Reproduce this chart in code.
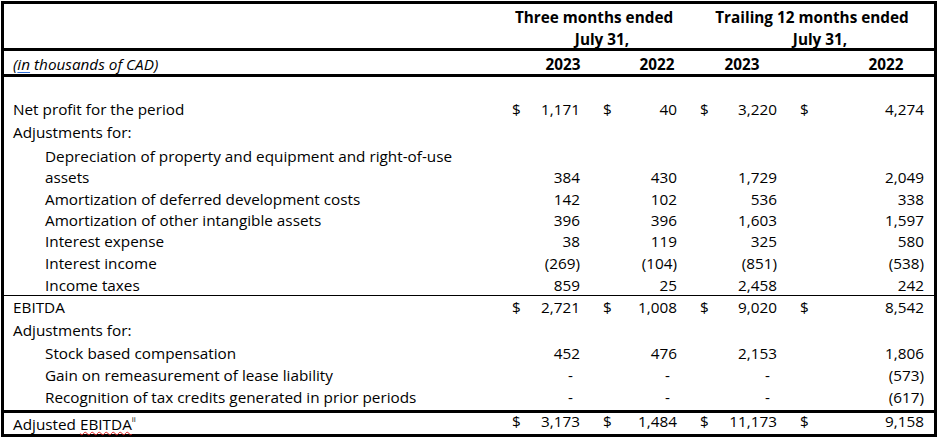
<!DOCTYPE html>
<html>
<head>
<meta charset="utf-8">
<script src="https://cdn.jsdelivr.net/npm/chart.js@4/dist/chart.umd.min.js"></script>
<style>
  html, body { margin:0; padding:0; background:#fff; }
  #wrap { position:relative; width:937px; height:438px; overflow:hidden; font-family:"Open Sans", sans-serif; font-size:15.3px; color:#000; }
  .t { position:absolute; white-space:nowrap; line-height:20px; }
  .b { font-weight:bold; }
  .hl { position:absolute; left:1px; width:936px; background:#000; }
  #box { position:absolute; left:1px; top:1px; width:936px; height:436px; box-sizing:border-box; border:3px solid #000; }
</style>
</head>
<body>
<div id="wrap">
  <div id="box"></div>
</div>
<script>
// ---- data ----
const rowLabels = [
  "Net profit for the period",
  "Adjustments for:",
  "Depreciation of property and equipment and right-of-use",
  "assets",
  "Amortization of deferred development costs",
  "Amortization of other intangible assets",
  "Interest expense",
  "Interest income",
  "Income taxes",
  "EBITDA",
  "Adjustments for:",
  "Stock based compensation",
  "Gain on remeasurement of lease liability",
  "Recognition of tax credits generated in prior periods",
  "Adjusted EBITDA"
];
const rowIndent = [0,0,1,1,1,1,1,1,1,0,0,1,1,1,0];
const dollarRows = [true,false,false,false,false,false,false,false,false,true,false,false,false,false,true];
const threeMonths2023 = [1171, null, null, 384, 142, 396, 38, -269, 859, 2721, null, 452, 0, 0, 3173];
const threeMonths2022 = [40, null, null, 430, 102, 396, 119, -104, 25, 1008, null, 476, 0, 0, 1484];
const trailing2023   = [3220, null, null, 1729, 536, 1603, 325, -851, 2458, 9020, null, 2153, 0, 0, 11173];
const trailing2022   = [4274, null, null, 2049, 338, 1597, 580, -538, 242, 8542, null, 1806, -573, -617, 9158];
const groupHeaders = ["Three months ended", "Trailing 12 months ended"];
const groupSubHeaders = ["July 31,", "July 31,"];
const yearHeaders = ["2023", "2022", "2023", "2022"];
const unitsLabel = "thousands of CAD";

// ---- layout ----
const wrap = document.getElementById('wrap');
const rowBaselines = [115,138,162,183,205,226,247,269,291,313,336,359,381,403,427];
const indentX = [13, 45];
const dollarX = [512, 603, 700, 800];
const numRight = [580, 677, 777, 924];
const yearCenter = [563, 657, 742, 886];
const groupCenter = [594, 812];
const ASC = 16;

function addText(html, x, baseline, opts = {}) {
  const d = document.createElement('div');
  d.className = 't' + (opts.bold ? ' b' : '');
  d.innerHTML = html;
  d.style.top = (baseline - ASC) + 'px';
  if (opts.align === 'right') { d.style.right = (937 - x) + 'px'; }
  else if (opts.align === 'center') { d.style.left = x + 'px'; d.style.transform = 'translateX(-50%)'; }
  else { d.style.left = x + 'px'; }
  if (opts.italic) d.style.fontStyle = 'italic';
  wrap.appendChild(d);
  return d;
}
function hline(top, h) {
  const d = document.createElement('div');
  d.className = 'hl';
  d.style.top = top + 'px';
  d.style.height = h + 'px';
  wrap.appendChild(d);
}
function fmt(v) {
  if (v === 0) return '-';
  const s = Math.abs(v).toLocaleString('en-US');
  return v < 0 ? '(' + s + ')' : s;
}

hline(48, 3); hline(74, 3); hline(295, 1); hline(410, 3);

groupHeaders.forEach((h, i) => addText(h, groupCenter[i], 23, {bold:true, align:'center'}));
groupSubHeaders.forEach((h, i) => addText(h, groupCenter[i] + 8, 45, {bold:true, align:'center'}));
yearHeaders.forEach((h, i) => addText(h, yearCenter[i], 70, {bold:true, align:'center'}));
addText('(<span style="text-decoration:underline;text-decoration-color:#2f6fd6;text-underline-offset:2px">in</span> ' + unitsLabel + ')', 13, 70, {italic:true});

const series = [threeMonths2023, threeMonths2022, trailing2023, trailing2022];
rowLabels.forEach((lab, r) => {
  let html = lab;
  if (r === rowLabels.length - 1) {
    html = 'Adjusted <span style="text-decoration:underline wavy #e02020;text-underline-offset:1px;text-decoration-thickness:1px">EBITDA</span><sup style="font-size:8px;position:relative;top:-2px">ii</sup>';
  }
  addText(html, indentX[rowIndent[r]], rowBaselines[r]);
  series.forEach((s, c) => {
    const v = s[r];
    if (v === null || v === undefined) return;
    if (dollarRows[r]) addText('$', dollarX[c], rowBaselines[r]);
    const pad = v === 0 ? 7 : 0;
    addText(fmt(v), numRight[c] - pad, rowBaselines[r], {align:'right'});
  });
});
</script>
</body>
</html>
